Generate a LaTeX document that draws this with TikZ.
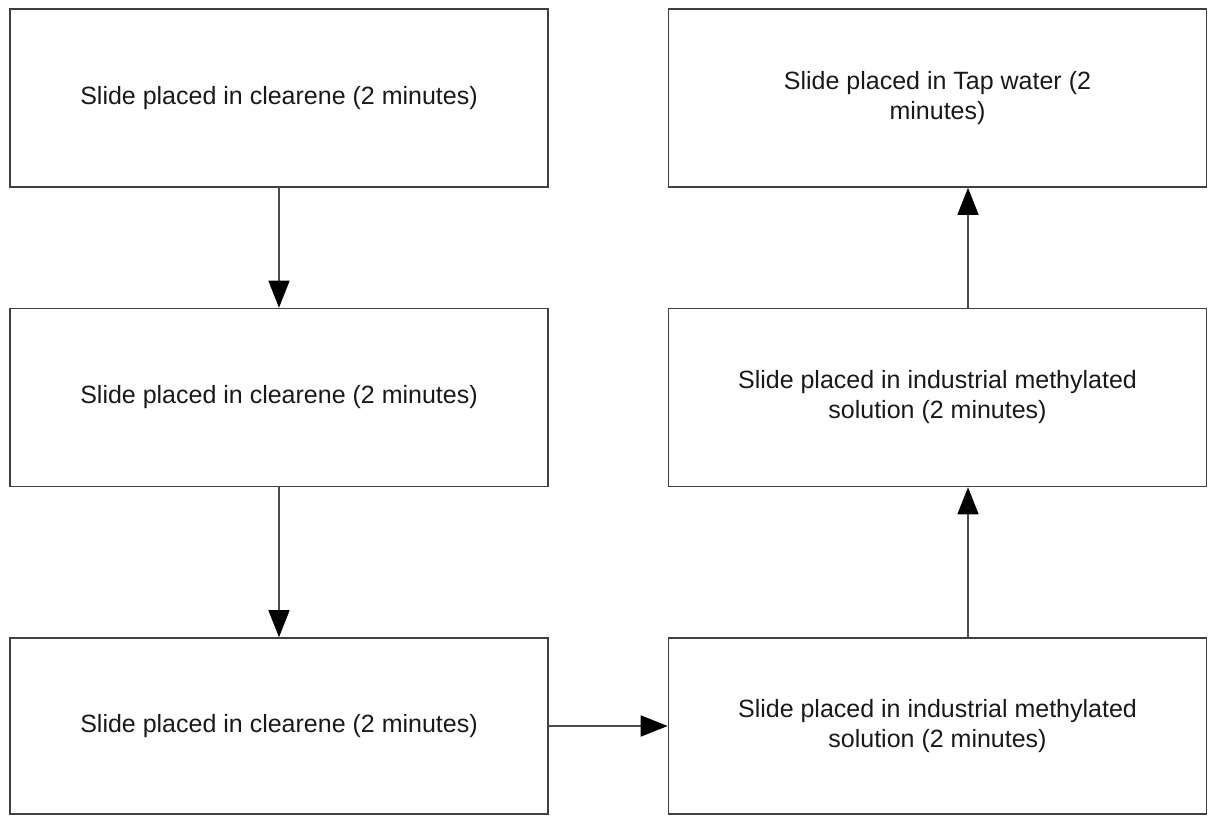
\documentclass[tikz,border=0pt]{standalone}
\usepackage{fontspec}
\setmainfont{Liberation Sans}
\usetikzlibrary{arrows.meta}
\begin{document}
\begin{tikzpicture}[x=1pt,y=-1pt,
  stepbox/.style={draw=black!75, line width=1.6pt, rectangle, minimum width=538pt, minimum height=178pt, inner sep=0pt, align=center, text=black!90, font=\fontsize{25}{30}\selectfont},
  arr/.style={draw=black!70, line width=1.6pt, -{Triangle[length=27pt,width=21pt,color=black]}}]
\useasboundingbox (0,0) rectangle (1208,816);
\node[stepbox] (a1) at (279,98) {Slide placed in clearene (2 minutes)};
\node[stepbox] (a2) at (279,397.5) {Slide placed in clearene (2 minutes)};
\node[stepbox, minimum height=176pt] (a3) at (279,726) {Slide placed in clearene (2 minutes)};
\node[stepbox] (b1) at (937.5,98) {Slide placed in Tap water (2\\minutes)};
\node[stepbox] (b2) at (937.5,397.5) {Slide placed in industrial methylated\\solution (2 minutes)};
\node[stepbox, minimum height=176pt] (b3) at (937.5,726) {Slide placed in industrial methylated\\solution (2 minutes)};
\coordinate (rc) at (968,0);
\draw[arr] (a1.south) -- (a2.north);
\draw[arr] (a2.south) -- (a3.north);
\draw[arr] (a3.east) -- (b3.west);
\draw[arr] (b3.north -| rc) -- (b2.south -| rc);
\draw[arr] (b2.north -| rc) -- (b1.south -| rc);
\end{tikzpicture}
\end{document}
